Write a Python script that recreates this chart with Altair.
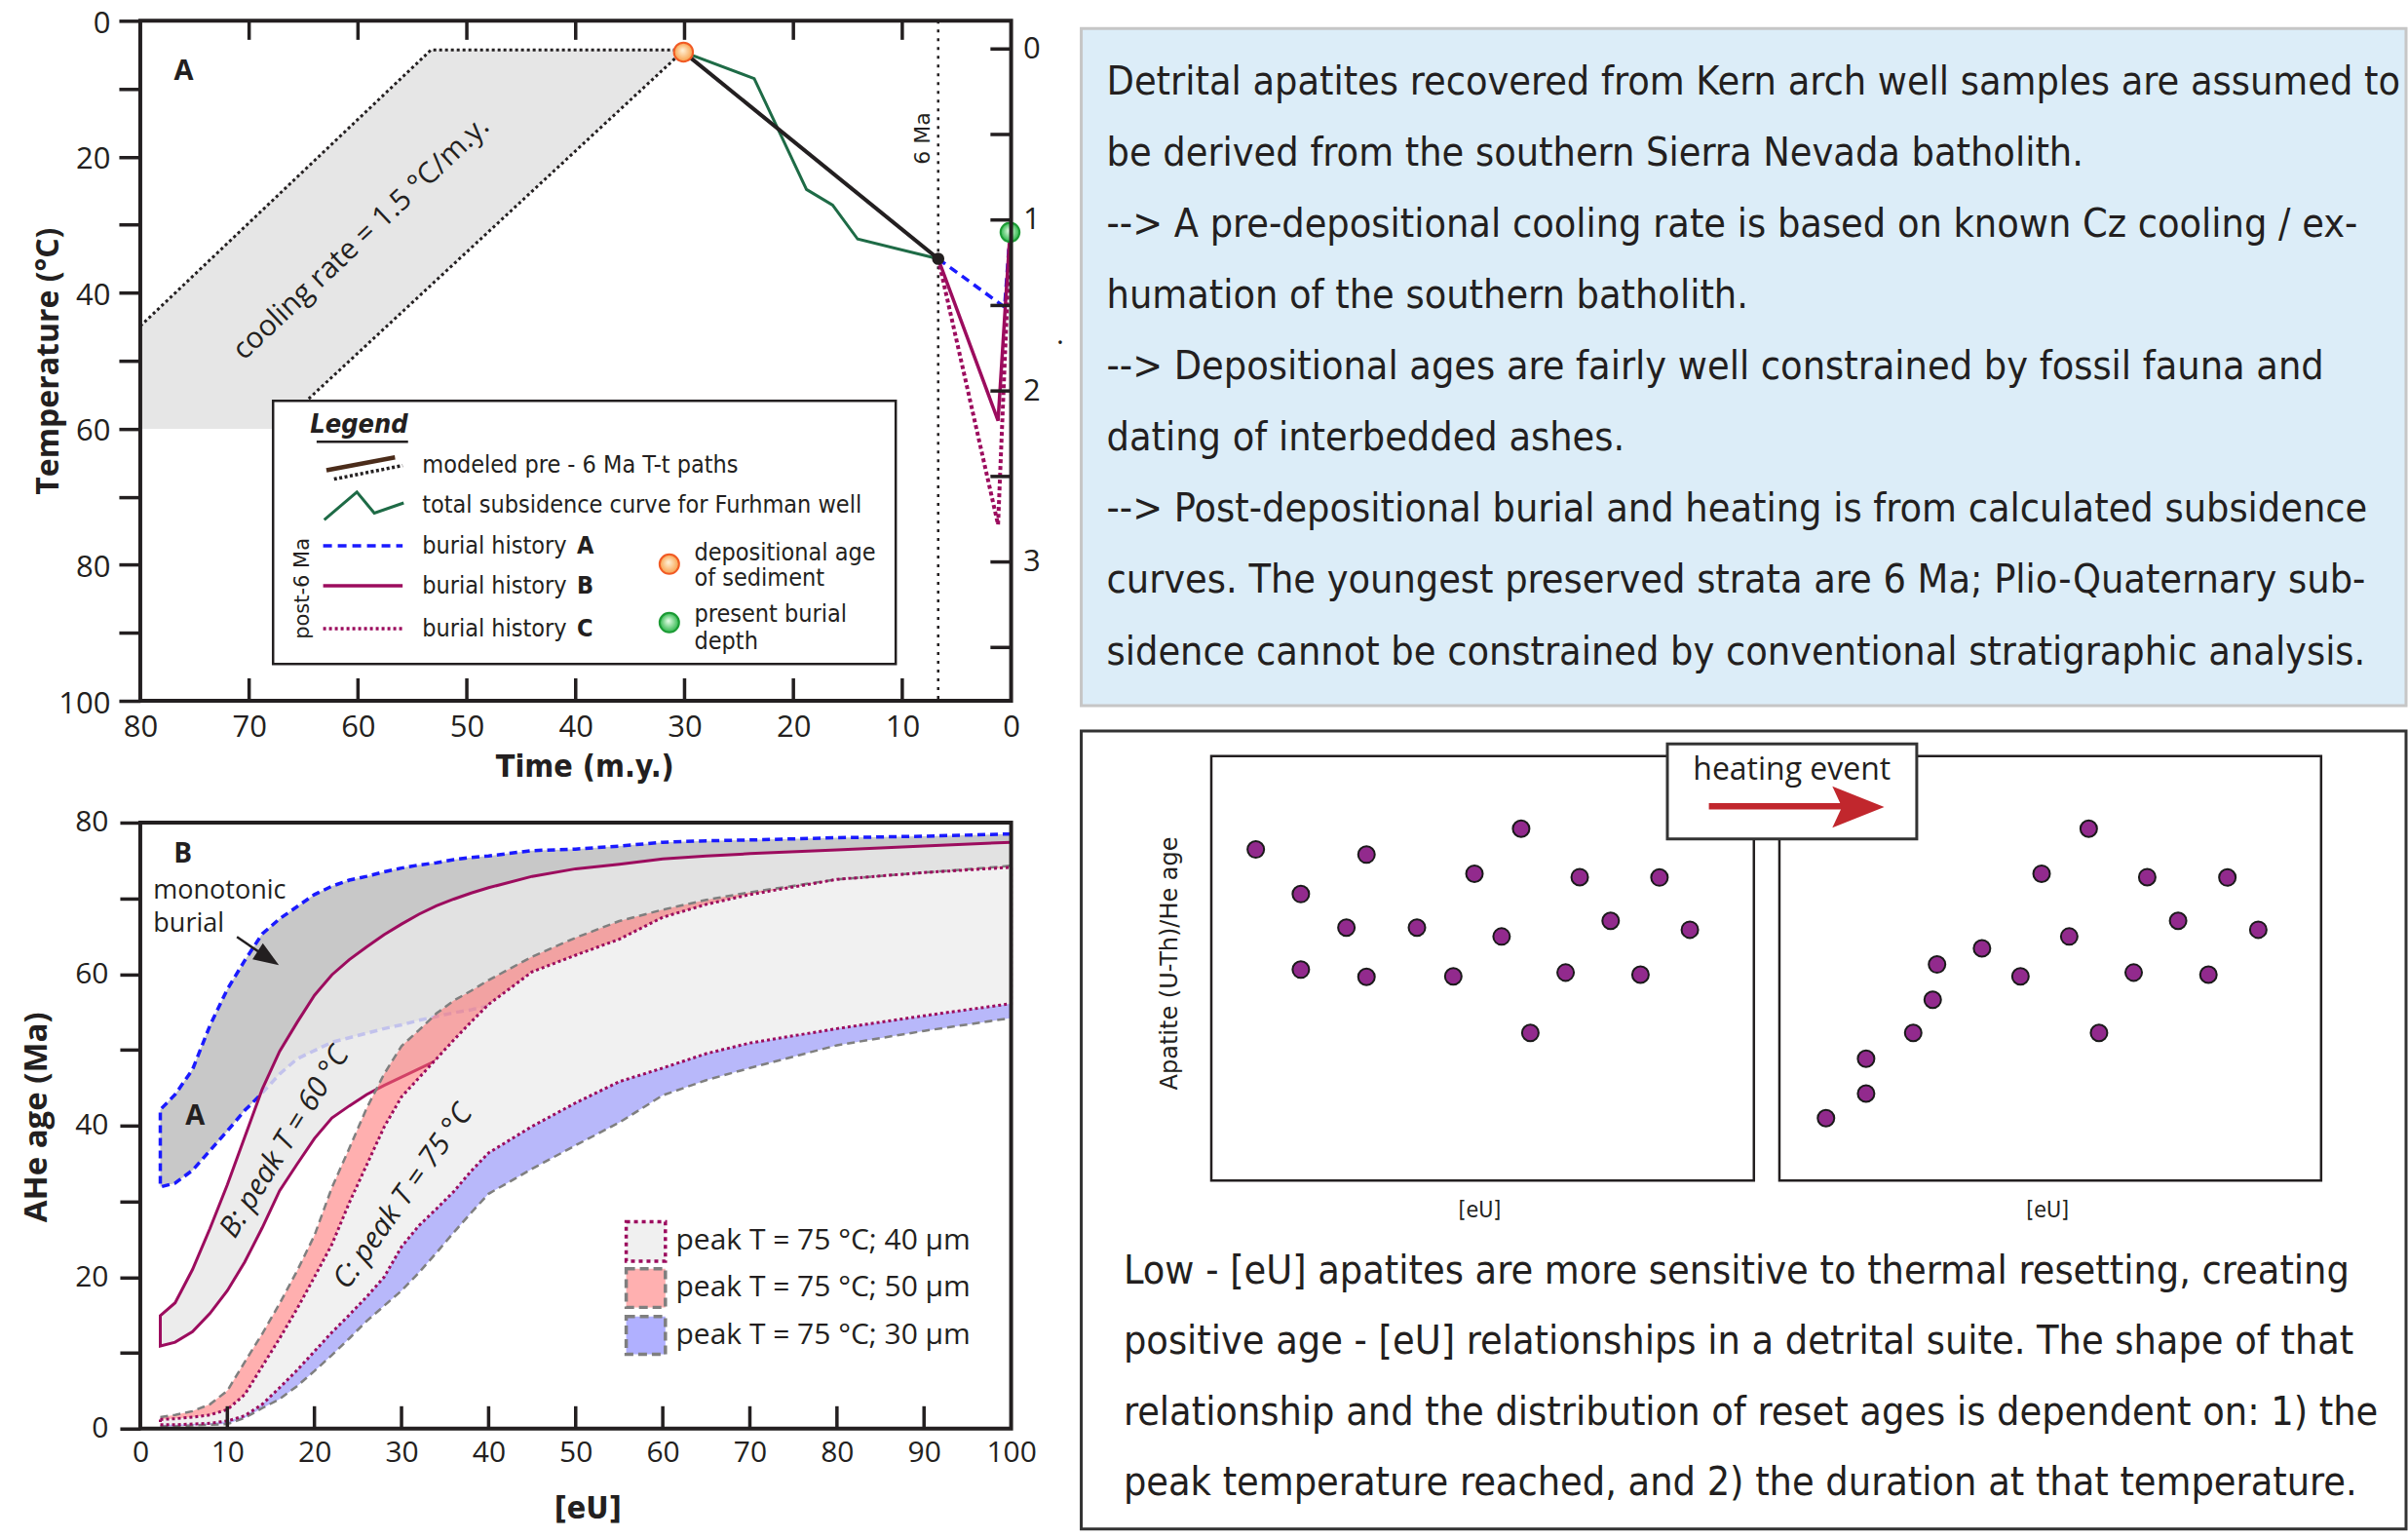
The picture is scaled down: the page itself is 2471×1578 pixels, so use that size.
import altair as alt
import pandas as pd

INK = "#231f20"
FN = "'Liberation Sans Narrow', 'Arial Narrow', 'DejaVu Sans Condensed', 'Liberation Sans', sans-serif"
FR = "'Open Sans', 'Liberation Sans', sans-serif"
FV = "'DejaVu Sans', Verdana, sans-serif"
MAG = "#9c0c5e"
BLUE = "#1a1aff"
GREEN = "#1e6b46"
GREYD = "#7f7f7f"
PURPLE = "#922a8d"
RED = "#c1272d"

# ================= Panel A data (time in Ma, temperature in degC) =================
time_labels = [80, 70, 60, 50, 40, 30, 20, 10, 0]
time_inner_ticks = [70, 60, 50, 40, 30, 20, 10]
temp_ticks = [0, 10, 20, 30, 40, 50, 60, 70, 80, 90, 100]
depth_labels = [0, 1, 2, 3]
depth_ticks = [0, 0.5, 1, 1.5, 2, 2.5, 3, 3.5]

band_t = [80, 67.5, 53.3, 30.1]
band_top = [44.9, 25.7, 4.3, 4.3]
band_bottom = [60, 60, 38.9, 4.4]
upper_path_t = [80, 53.3, 30.1]
upper_path_T = [44.9, 4.3, 4.3]
lower_path_t = [30.1, 67.5]
lower_path_T = [4.4, 60]
model_t = [30.1, 6.7]
model_T = [4.6, 35.0]
furhman_t = [30.1, 23.6, 18.8, 16.4, 14.1, 6.7]
furhman_T = [4.6, 8.5, 24.8, 27.1, 32.1, 35.0]
histA_t = [6.7, 0.6, 0.1]
histA_T = [35.0, 42.1, 31.1]
histB_t = [6.7, 1.2, 0.1]
histB_T = [35.0, 58.8, 31.1]
histC_t = [6.7, 1.2, 0.1]
histC_T = [35.0, 74.1, 31.1]
dep_t, dep_T = [30.1], [4.6]
pres_t, pres_T = [0.1], [31.1]
node_t, node_T = [6.7], [35.0]
six_ma = [6.7]

# ================= Panel B data ([eU] vs AHe age) =================
eU_labels = [0, 10, 20, 30, 40, 50, 60, 70, 80, 90, 100]
eU_inner_ticks = [10, 20, 30, 40, 50, 60, 70, 80, 90]
age_ticks = [0, 10, 20, 30, 40, 50, 60, 70, 80]
eU_grid = [2.3, 4, 6, 8, 10, 12, 14, 16, 18, 20, 22, 24, 26, 28, 30, 32, 34, 36, 38, 40,
           45, 50, 55, 60, 65, 70, 80, 90, 100]
blue_upper = [42.1, 44.1, 47.4, 53.2, 58.0, 61.8, 65.3, 67.3, 68.9, 70.5, 71.6, 72.4, 72.9, 73.5,
              74.0, 74.4, 74.7, 75.1, 75.4, 75.6, 76.3, 76.5, 76.9, 77.4, 77.6, 77.7, 78.0, 78.2, 78.5]
blue_lower = [31.9, 32.4, 34.1, 36.7, 39.3, 42.0, 44.3, 46.8, 48.8, 49.9, 51.0, 51.6, 52.2, 52.8,
              53.3, 53.9, 54.4, 54.9, 55.3, 55.8]
magenta_upper = [14.9, 16.6, 21.0, 26.4, 32.2, 38.5, 44.8, 49.8, 53.6, 57.2, 59.9, 61.9, 63.6, 65.2,
                 66.6, 67.9, 69.0, 69.9, 70.7, 71.4, 72.9, 73.9, 74.5, 75.2, 75.6, 75.9, 76.4, 76.9, 77.4]
magenta_lower = [10.9, 11.4, 12.8, 15.2, 18.2, 22.0, 26.5, 31.4, 34.9, 38.3, 41.0, 42.6, 44.1, 45.3,
                 46.4, 47.5, 48.6]
c40_upper = [1.2, 1.3, 1.5, 1.8, 2.5, 4.5, 8.2, 11.9, 15.8, 20.0, 24.3, 29.8, 34.8, 39.8, 43.8, 46.3,
             48.8, 51.3, 53.7, 56.0, 60.3, 62.5, 64.6, 67.5, 69.2, 70.5, 72.5, 73.4, 74.1]
c40_lower = [0.5, 0.5, 0.6, 0.7, 1.0, 1.7, 3.2, 5.4, 7.7, 10.2, 12.7, 15.0, 17.4, 20.0, 24.0, 26.8,
             29.0, 31.3, 34.0, 36.4, 39.9, 43.0, 45.8, 47.6, 49.5, 50.9, 52.8, 54.5, 56.1]
c50_upper = [1.5, 1.8, 2.3, 3.2, 5.0, 8.8, 12.5, 16.5, 20.8, 25.5, 31.8, 37.0, 42.3, 46.8, 50.5, 52.6,
             54.8, 56.5, 57.8, 59.2, 62.3, 64.8, 67.0, 68.5, 69.8, 70.8, 72.5, 73.4, 74.3]
c30_lower = [0.3, 0.3, 0.4, 0.5, 0.6, 1.4, 2.7, 3.9, 5.6, 7.6, 9.7, 11.9, 14.2, 16.2, 18.2, 20.6,
             23.2, 25.9, 28.5, 31.0, 34.3, 37.4, 40.4, 44.0, 46.0, 47.6, 50.6, 52.5, 54.2]
legendB_labels = ["peak T = 75 °C; 40 μm", "peak T = 75 °C; 50 μm", "peak T = 75 °C; 30 μm"]

# ================= Schematic scatter data (arbitrary units 0-100) =================
before_eU = [8.2, 16.5, 16.5, 24.9, 28.6, 28.6, 37.9, 44.6, 48.5, 53.5, 57.1, 58.8, 65.3, 67.9, 73.6, 79.1, 82.6, 88.2]
before_age = [78.0, 67.5, 49.7, 59.6, 76.8, 48.0, 59.6, 48.1, 72.3, 57.5, 82.9, 34.8, 49.0, 71.5, 61.2, 48.5, 71.4, 59.1]
after_eU = [8.6, 16.0, 16.0, 24.7, 28.3, 29.1, 37.4, 44.5, 48.4, 53.5, 57.1, 59.0, 65.4, 67.9, 73.6, 79.2, 82.7, 88.4]
after_age = [14.7, 20.5, 28.7, 34.8, 42.6, 50.9, 54.7, 48.1, 72.3, 57.5, 82.9, 34.8, 49.0, 71.5, 61.2, 48.5, 71.4, 59.1]

top_lines = [
    "Detrital apatites recovered from Kern arch well samples are assumed to",
    "be derived from the southern Sierra Nevada batholith.",
    "--> A pre-depositional cooling rate is based on known Cz cooling / ex-",
    "humation of the southern batholith.",
    "--> Depositional ages are fairly well constrained by fossil fauna and",
    "dating of interbedded ashes.",
    "--> Post-depositional burial and heating is from calculated subsidence",
    "curves. The youngest preserved strata are 6 Ma; Plio-Quaternary sub-",
    "sidence cannot be constrained by conventional stratigraphic analysis.",
]
bottom_lines = [
    "Low - [eU] apatites are more sensitive to thermal resetting, creating",
    "positive age - [eU] relationships in a detrital suite. The shape of that",
    "relationship and the distribution of reset ages is dependent on: 1) the",
    "peak temperature reached, and 2) the duration at that temperature.",
]


def df(**cols):
    return pd.DataFrame(cols)


ONE = df(a=[0])

# ---------------- Panel A encodings ----------------
SA_X = alt.Scale(domain=[80, 0], nice=False, zero=False)
SA_Y = alt.Scale(domain=[100, 0], nice=False, zero=False)
SA_D = alt.Scale(domain=[3.812, -0.165], nice=False, zero=False)
AXA_X = alt.Axis(values=time_labels, ticks=False, tickSize=0, domain=False, grid=False,
                 labelFont=FR, labelFontSize=31, labelColor=INK, labelPadding=12,
                 labelFlush=False, labelOverlap=False,
                 title="Time (m.y.)", titleFont=FN, titleFontSize=32, titleFontWeight="bold",
                 titleColor=INK, titleX=456, titleY=68, titleAlign="center", titleBaseline="middle")
AXA_Y = alt.Axis(values=temp_ticks, tickSize=22, tickWidth=3.5, tickColor=INK, domain=False, grid=False,
                 labelExpr="datum.value % 20 == 0 ? datum.label : ''",
                 labelFont=FR, labelFontSize=31, labelColor=INK, labelPadding=9, labelOffset=3,
                 labelFlush=False, labelOverlap=False,
                 title="Temperature (°C)", titleFont=FR, titleFontSize=32, titleFontWeight="bold",
                 titleColor=INK, titleX=-94, titleY=349, titleAngle=270, titleAlign="center",
                 titleBaseline="middle")


def AX(field=None, datum=None):
    if datum is not None:
        return alt.XDatum(datum, type="quantitative", scale=SA_X, axis=AXA_X)
    return alt.X(field, type="quantitative", scale=SA_X, axis=AXA_X)


def AY(field=None, datum=None):
    if datum is not None:
        return alt.YDatum(datum, type="quantitative", scale=SA_Y, axis=AXA_Y)
    return alt.Y(field, type="quantitative", scale=SA_Y, axis=AXA_Y)


def a_line(ts, Ts, **mk):
    d = df(t=ts, T=Ts, o=list(range(len(ts))))
    return alt.Chart(d).mark_line(**mk).encode(x=AX("t"), y=AY("T"), order=alt.Order("o:Q"))


def a_text(ts, Ts, texts, **mk):
    d = df(t=ts, T=Ts, s=texts)
    return alt.Chart(d).mark_text(**mk).encode(x=AX("t"), y=AY("T"), text="s:N")


def grad(c0, c1):
    return {"gradient": "radial", "x1": 0.45, "y1": 0.4, "r1": 0, "x2": 0.5, "y2": 0.5, "r2": 0.5,
            "stops": [{"offset": 0, "color": c0}, {"offset": 1, "color": c1}]}


ORANGE_FILL = grad("#fff3da", "#f8a04a")
GREEN_FILL = grad("#eaffea", "#2cb64a")

a_layers = [
    alt.Chart(df(t=band_t, top=band_top, bot=band_bottom)).mark_area(color="#e6e6e6").encode(
        x=AX("t"), y=AY("top"), y2=alt.Y2("bot")),
    a_line(upper_path_t, upper_path_T, color=INK, strokeWidth=3, strokeDash=[3, 3]),
    a_line(lower_path_t, lower_path_T, color=INK, strokeWidth=3, strokeDash=[3, 3]),
    alt.Chart(df(t=six_ma)).mark_rule(color=INK, strokeWidth=2.5, strokeDash=[3, 6]).encode(
        x=AX("t"), y=AY(datum=0), y2=alt.Y2Datum(100)),
    a_line(furhman_t, furhman_T, color=GREEN, strokeWidth=3),
    a_line(model_t, model_T, color=INK, strokeWidth=4),
    a_line(histA_t, histA_T, color=BLUE, strokeWidth=3.5, strokeDash=[9, 6]),
    a_line(histB_t, histB_T, color=MAG, strokeWidth=3.5),
    a_line(histC_t, histC_T, color=MAG, strokeWidth=4, strokeDash=[4, 3]),
    alt.Chart(df(t=node_t, T=node_T)).mark_circle(size=160, color=INK, opacity=1).encode(x=AX("t"), y=AY("T")),
    alt.Chart(df(t=dep_t, T=dep_T)).mark_point(shape="circle", filled=True, fill=ORANGE_FILL, stroke="#f15a24",
                                               strokeWidth=2, size=380, opacity=1).encode(x=AX("t"), y=AY("T")),
    alt.Chart(df(t=pres_t, T=pres_T)).mark_point(shape="circle", filled=True, fill=GREEN_FILL, stroke="#1b9a34",
                                                 strokeWidth=2, size=380, opacity=1).encode(x=AX("t"), y=AY("T")),
    # annotations
    a_text([76.0], [7.35], ["A"], font=FR, fontSize=29, fontWeight="bold", color=INK, align="center", baseline="middle"),
    a_text([59.7], [32.0], ["cooling rate = 1.5 °C/m.y."], font=FR, fontSize=30, color=INK, align="center",
           baseline="middle", angle=316.7),
    a_text([8.1], [17.3], ["6 Ma"], font=FV, fontSize=22, color=INK, align="center", baseline="middle", angle=270),
    a_text([-4.5], [47.5], ["."], font=FR, fontSize=30, color=INK, align="center", baseline="alphabetic"),
    # legend box
    alt.Chart(df(x0=[67.8], x1=[10.6], y0=[55.9], y1=[94.6])).mark_rect(fill="white", stroke=INK, strokeWidth=2.5).encode(
        x=AX("x0"), x2=alt.X2("x1"), y=AY("y0"), y2=alt.Y2("y1")),
    a_text([59.9], [59.4], ["Legend"], font=FN, fontSize=27, fontWeight="bold", fontStyle="italic", color=INK,
           align="center", baseline="middle"),
    a_line([63.8, 55.4], [61.9, 61.9], color=INK, strokeWidth=2.5),
    a_line([62.9, 56.6], [66.1, 64.2], color="#4b2c1a", strokeWidth=4.5),
    a_line([62.2, 55.9], [67.4, 65.4], color=INK, strokeWidth=3.5, strokeDash=[3, 2.5]),
    a_line([63.1, 60.1, 58.5, 55.8], [73.4, 69.3, 72.4, 70.9], color=GREEN, strokeWidth=3),
    a_line([63.2, 55.9], [77.2, 77.2], color=BLUE, strokeWidth=3.5, strokeDash=[9, 6]),
    a_line([63.2, 55.9], [83.1, 83.1], color=MAG, strokeWidth=3.5),
    a_line([63.2, 55.9], [89.4, 89.4], color=MAG, strokeWidth=3.5, strokeDash=[3, 3]),
    a_text([54.1] * 5, [65.3, 71.2, 77.2, 83.1, 89.4],
           ["modeled pre - 6 Ma T-t paths", "total subsidence curve for Furhman well",
            "burial history", "burial history", "burial history"],
           font=FN, fontSize=25, color=INK, align="left", baseline="middle"),
    a_text([39.9] * 3, [77.2, 83.1, 89.4], ["A", "B", "C"], font=FN, fontSize=25, fontWeight="bold", color=INK,
           align="left", baseline="middle"),
    a_text([65.0], [83.5], ["post-6 Ma"], font=FV, fontSize=21, color=INK, align="center", baseline="middle", angle=270),
    alt.Chart(df(t=[31.4], T=[79.9])).mark_point(shape="circle", filled=True, fill=ORANGE_FILL, stroke="#f15a24",
                                                 strokeWidth=2, size=400, opacity=1).encode(x=AX("t"), y=AY("T")),
    alt.Chart(df(t=[31.4], T=[88.5])).mark_point(shape="circle", filled=True, fill=GREEN_FILL, stroke="#1b9a34",
                                                 strokeWidth=2, size=400, opacity=1).encode(x=AX("t"), y=AY("T")),
    a_text([29.1] * 4, [78.2, 81.9, 87.3, 91.3], ["depositional age", "of sediment", "present burial", "depth"],
           font=FN, fontSize=25, color=INK, align="left", baseline="middle"),
    # inward ticks and frame
    alt.Chart(df(t=time_inner_ticks)).mark_rule(color=INK, strokeWidth=3.5).encode(
        x=AX("t"), y=AY(datum=100), y2=alt.Y2Datum(96.7)),
    alt.Chart(df(t=time_inner_ticks)).mark_rule(color=INK, strokeWidth=3.5).encode(
        x=AX("t"), y=AY(datum=0), y2=alt.Y2Datum(2.8)),
    alt.Chart(ONE).mark_rect(fillOpacity=0, stroke=INK, strokeWidth=4).encode(
        x=AX(datum=80), x2=alt.X2Datum(0), y=AY(datum=0), y2=alt.Y2Datum(100)),
    # invisible layout anchors (page origin and gap to the right-hand column)
    alt.Chart(ONE).mark_point(size=4, opacity=0).encode(x=alt.value(-143), y=alt.value(-20)),
    alt.Chart(ONE).mark_point(size=4, opacity=0).encode(x=alt.value(962.5), y=alt.value(300)),
]
a_main = alt.layer(*a_layers)
a_right = alt.Chart(df(d=depth_ticks)).mark_rule(color=INK, strokeWidth=3.5).encode(
    y=alt.Y("d:Q", scale=SA_D,
            axis=alt.Axis(orient="right", values=depth_labels, ticks=False, tickSize=0, domain=False, grid=False,
                          labelFont=FR, labelFontSize=31, labelColor=INK, labelPadding=12, labelFlush=False,
                          labelOverlap=False, title=None)),
    x=AX(datum=0), x2=alt.X2Datum(1.9))
panelA = alt.layer(a_main, a_right).resolve_scale(y="independent").properties(width=894, height=698)

# ---------------- Panel B encodings ----------------
SB_X = alt.Scale(domain=[0, 100], nice=False, zero=False)
SB_Y = alt.Scale(domain=[0, 80], nice=False, zero=False)
AXB_X = alt.Axis(values=eU_labels, ticks=False, tickSize=0, domain=False, grid=False,
                 labelFont=FR, labelFontSize=30, labelColor=INK, labelPadding=10,
                 labelFlush=False, labelOverlap=False,
                 title="[eU]", titleFont=FN, titleFontSize=32, titleFontWeight="bold", titleColor=INK,
                 titleX=459, titleY=82, titleAlign="center", titleBaseline="middle")
AXB_Y = alt.Axis(values=age_ticks, tickSize=21, tickWidth=3.5, tickColor=INK, domain=False, grid=False,
                 labelExpr="datum.value % 20 == 0 ? datum.label : ''",
                 labelFont=FR, labelFontSize=30, labelColor=INK, labelPadding=12,
                 labelFlush=False, labelOverlap=False,
                 title="AHe age (Ma)", titleFont=FR, titleFontSize=33, titleFontWeight="bold", titleColor=INK,
                 titleX=-106, titleY=302, titleAngle=270, titleAlign="center", titleBaseline="middle")


def BX(field=None, datum=None):
    if datum is not None:
        return alt.XDatum(datum, type="quantitative", scale=SB_X, axis=AXB_X)
    return alt.X(field, type="quantitative", scale=SB_X, axis=AXB_X)


def BY(field=None, datum=None):
    if datum is not None:
        return alt.YDatum(datum, type="quantitative", scale=SB_Y, axis=AXB_Y)
    return alt.Y(field, type="quantitative", scale=SB_Y, axis=AXB_Y)


def b_area(lo, hi, **mk):
    d = df(eU=eU_grid, lo=lo, hi=hi)
    return alt.Chart(d).mark_area(**mk).encode(x=BX("eU"), y=BY("lo"), y2=alt.Y2("hi"))


def b_line(xs, ys, **mk):
    d = df(eU=xs, age=ys, o=list(range(len(xs))))
    return alt.Chart(d).mark_line(**mk).encode(x=BX("eU"), y=BY("age"), order=alt.Order("o:Q"))


def b_text(xs, ys, texts, **mk):
    d = df(eU=xs, age=ys, s=texts)
    return alt.Chart(d).mark_text(**mk).encode(x=BX("eU"), y=BY("age"), text="s:N")


nB = len(blue_lower)
nM = len(magenta_lower)
blue_path_x = eU_grid[:nB][::-1] + eU_grid
blue_path_y = blue_lower[::-1] + blue_upper
mag_path_x = eU_grid[:nM][::-1] + eU_grid
mag_path_y = magenta_lower[::-1] + magenta_upper
c40_path_x = eU_grid + eU_grid[::-1] + eU_grid[:1]
c40_path_y = c40_upper + c40_lower[::-1] + c40_upper[:1]

ARROW_HEAD = "M 1 0 L -1 -0.75 L -1 0.75 Z"

b_layers = [
    b_area(blue_lower + c40_upper[nB:], blue_upper, color="#c8c8c8"),
    b_line(blue_path_x, blue_path_y, color=BLUE, strokeWidth=3.5, strokeDash=[8, 5]),
    b_area(magenta_lower + c40_upper[nM:], magenta_upper, color="#e8e8e8", opacity=0.82),
    b_line(mag_path_x, mag_path_y, color=MAG, strokeWidth=3),
    b_area(c40_lower, c40_upper, color="#f1f1f1"),
    b_area(c40_upper, c50_upper, color="#ff6d6d", opacity=0.55),
    b_area(c30_lower, c40_lower, color="#b8b8fa"),
    b_line(eU_grid, c50_upper, color=GREYD, strokeWidth=2.5, strokeDash=[8, 5]),
    b_line(eU_grid, c30_lower, color=GREYD, strokeWidth=2.5, strokeDash=[8, 5]),
    b_line(c40_path_x, c40_path_y, color=MAG, strokeWidth=3, strokeDash=[3, 3]),
    # annotations
    b_text([4.9], [75.8], ["B"], font=FR, fontSize=28, fontWeight="bold", color=INK, align="center", baseline="middle"),
    b_text([1.5, 1.5], [71.0, 66.6], ["monotonic", "burial"], font=FR, fontSize=27, color=INK, align="left",
           baseline="middle"),
    b_line([11.1, 14.7], [64.9, 62.1], color=INK, strokeWidth=2.5),
    alt.Chart(df(eU=[14.7], age=[62.1])).mark_point(shape=ARROW_HEAD, filled=True, fill=INK, strokeWidth=0,
                                                    size=676, angle=33, opacity=1).encode(x=BX("eU"), y=BY("age")),
    b_text([6.3], [41.3], ["A"], font=FR, fontSize=29, fontWeight="bold", color=INK, align="center", baseline="middle"),
    b_text([16.6], [37.8], ["B: peak T = 60 °C"], font=FR, fontSize=30, fontStyle="italic", color=INK,
           align="center", baseline="middle", angle=301.8),
    b_text([30.2], [30.6], ["C: peak T = 75 °C"], font=FR, fontSize=30, fontStyle="italic", color=INK,
           align="center", baseline="middle", angle=305.3),
    # legend swatches
    alt.Chart(ONE).mark_rect(fill="#f0f0f0", stroke=MAG, strokeWidth=3.5, strokeDash=[4, 4]).encode(
        x=BX(datum=55.8), x2=alt.X2Datum(60.3), y=BY(datum=27.3), y2=alt.Y2Datum(22.1)),
    alt.Chart(ONE).mark_rect(fill="#ffb0b0", stroke=GREYD, strokeWidth=3.5, strokeDash=[9, 5]).encode(
        x=BX(datum=55.8), x2=alt.X2Datum(60.3), y=BY(datum=21.1), y2=alt.Y2Datum(16.0)),
    alt.Chart(ONE).mark_rect(fill="#b0b0ff", stroke=GREYD, strokeWidth=3.5, strokeDash=[9, 5]).encode(
        x=BX(datum=55.8), x2=alt.X2Datum(60.3), y=BY(datum=14.8), y2=alt.Y2Datum(9.8)),
    b_text([61.5] * 3, [24.8, 18.6, 12.3], legendB_labels, font=FR, fontSize=30, color=INK, align="left",
           baseline="middle"),
    # inward ticks and frame
    alt.Chart(df(eU=eU_inner_ticks)).mark_rule(color=INK, strokeWidth=3.5).encode(
        x=BX("eU"), y=BY(datum=0), y2=alt.Y2Datum(2.95)),
    alt.Chart(ONE).mark_rect(fillOpacity=0, stroke=INK, strokeWidth=4).encode(
        x=BX(datum=0), x2=alt.X2Datum(100), y=BY(datum=0), y2=alt.Y2Datum(80)),
]
panelB = alt.layer(*b_layers).properties(width=894, height=622)

# ---------------- Right column: text box ----------------
textbox = alt.layer(
    alt.Chart(ONE).mark_rect(fill="#dcedf8", stroke="#c6c6c6", strokeWidth=3).encode(
        x=alt.value(0), x2=alt.value(1360), y=alt.value(8), y2=alt.value(703)),
    alt.Chart(df(i=list(range(len(top_lines))), s=top_lines)).mark_text(
        align="left", baseline="alphabetic", font=FN, fontSize=41, color=INK).encode(
        x=alt.value(26),
        y=alt.Y("i:Q", scale=alt.Scale(domain=[0, 8], range=[75.7, 660.5]), axis=None),
        text="s:N"),
).properties(width=1360, height=703)

# ---------------- Right column: schematic box ----------------
SXL = alt.Scale(domain=[0, 100], range=[133.5, 690.5], nice=False, zero=False)
SXR = alt.Scale(domain=[0, 100], range=[716.7, 1272.8], nice=False, zero=False)
SYS = alt.Scale(domain=[0, 100], range=[461.4, 25.8], nice=False, zero=False)


def s_frame(sx):
    return alt.Chart(ONE).mark_rect(fillOpacity=0, stroke=INK, strokeWidth=2.5).encode(
        x=alt.XDatum(0, type="quantitative", scale=sx, axis=None), x2=alt.X2Datum(100),
        y=alt.YDatum(0, type="quantitative", scale=SYS, axis=None), y2=alt.Y2Datum(100))


def s_points(xs, ys, sx):
    return alt.Chart(df(eU=xs, age=ys)).mark_circle(size=290, color=PURPLE, stroke="#1a1a1a", strokeWidth=2,
                                                    opacity=1).encode(
        x=alt.X("eU:Q", scale=sx, axis=None), y=alt.Y("age:Q", scale=SYS, axis=None))


s_layers = [
    s_frame(SXL), s_frame(SXR),
    s_points(before_eU, before_age, SXL),
    s_points(after_eU, after_age, SXR),
    alt.Chart(ONE).mark_rect(fill="white", stroke="#333333", strokeWidth=3).encode(
        x=alt.value(601.7), x2=alt.value(857.7), y=alt.value(13.3), y2=alt.value(110.7)),
    alt.Chart(ONE).mark_text(text="heating event", font=FR, fontSize=32, color=INK, align="center",
                             baseline="alphabetic").encode(x=alt.value(729.5), y=alt.value(50)),
    alt.Chart(ONE).mark_rule(color=RED, strokeWidth=6.5).encode(
        x=alt.value(644.3), x2=alt.value(786), y=alt.value(77.3)),
    alt.Chart(ONE).mark_point(shape="M 1 0 L -1 -0.8 L -0.63 0 L -1 0.8 Z", filled=True, fill=RED, strokeWidth=0,
                              size=2841, opacity=1).encode(x=alt.value(797.7), y=alt.value(78)),
    alt.Chart(df(s=["[eU]", "[eU]"], px=[409, 992])).mark_text(font=FN, fontSize=23, color=INK, align="center",
                                                               baseline="middle").encode(
        x=alt.X("px:Q", scale=alt.Scale(domain=[0, 1360], range=[0, 1360]), axis=None),
        y=alt.value(492.4), text="s:N"),
    alt.Chart(ONE).mark_text(text="Apatite (U-Th)/He age", font=FV, fontSize=24, color=INK, align="center",
                             baseline="middle", angle=270).encode(x=alt.value(91.5), y=alt.value(238.5)),
    alt.Chart(df(i=list(range(len(bottom_lines))), s=bottom_lines)).mark_text(
        align="left", baseline="alphabetic", font=FN, fontSize=41, color=INK).encode(
        x=alt.value(43.4),
        y=alt.Y("i:Q", scale=alt.Scale(domain=[0, 3], range=[567, 784.8]), axis=None),
        text="s:N"),
]
schematic = alt.layer(*s_layers).resolve_scale(x="independent", y="independent").properties(
    width=1360, height=819, view=alt.ViewBackground(fill="white", stroke="#333333", strokeWidth=3))

left_col = alt.vconcat(panelA, panelB, spacing=125, bounds="flush")
right_col = alt.vconcat(textbox, schematic, spacing=26, bounds="flush")
chart = alt.hconcat(left_col, right_col, spacing=0).properties(
    padding=0, background="white").configure_view(strokeWidth=0)

chart.save("out.html", embed_options={"renderer": "svg", "actions": False})
